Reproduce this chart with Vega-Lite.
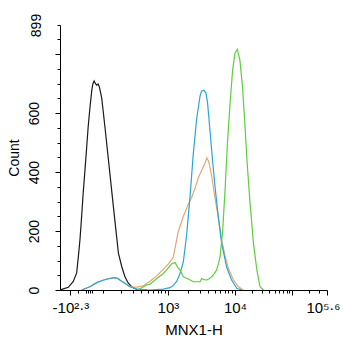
{
  "$schema": "https://vega.github.io/schema/vega-lite/v6.json",
  "autosize": {"type": "none"},
  "width": 267,
  "height": 265,
  "padding": {"left": 60, "top": 25, "right": 16, "bottom": 60},
  "background": "white",
  "config": {
    "view": {"stroke": null},
    "axis": {
      "grid": false,
      "domainColor": "#000000",
      "domainWidth": 1,
      "tickColor": "#000000",
      "tickWidth": 1,
      "labelColor": "#000000",
      "titleColor": "#000000",
      "labelFont": "Liberation Sans",
      "titleFont": "Liberation Sans",
      "titleFontWeight": "normal",
      "labelFontSize": 14,
      "titleFontSize": 14
    }
  },
  "data": {
    "values": [
      {"s": "black", "ch": 0, "count": 0},
      {"s": "black", "ch": 7, "count": 2},
      {"s": "black", "ch": 32, "count": 9},
      {"s": "black", "ch": 51, "count": 29},
      {"s": "black", "ch": 64, "count": 58},
      {"s": "black", "ch": 70, "count": 110},
      {"s": "black", "ch": 77, "count": 175},
      {"s": "black", "ch": 83, "count": 250},
      {"s": "black", "ch": 89, "count": 330},
      {"s": "black", "ch": 96, "count": 410},
      {"s": "black", "ch": 102, "count": 480},
      {"s": "black", "ch": 108, "count": 553},
      {"s": "black", "ch": 115, "count": 620},
      {"s": "black", "ch": 122, "count": 678},
      {"s": "black", "ch": 126, "count": 699},
      {"s": "black", "ch": 131, "count": 709},
      {"s": "black", "ch": 136, "count": 700},
      {"s": "black", "ch": 141, "count": 695},
      {"s": "black", "ch": 146, "count": 699},
      {"s": "black", "ch": 151, "count": 689},
      {"s": "black", "ch": 160, "count": 651},
      {"s": "black", "ch": 166, "count": 604},
      {"s": "black", "ch": 173, "count": 548},
      {"s": "black", "ch": 185, "count": 448},
      {"s": "black", "ch": 198, "count": 339},
      {"s": "black", "ch": 211, "count": 231},
      {"s": "black", "ch": 224, "count": 125},
      {"s": "black", "ch": 237, "count": 79},
      {"s": "black", "ch": 249, "count": 45},
      {"s": "black", "ch": 262, "count": 23},
      {"s": "black", "ch": 275, "count": 11},
      {"s": "black", "ch": 294, "count": 2},
      {"s": "black", "ch": 307, "count": 0},

      {"s": "orange", "ch": 83, "count": 0},
      {"s": "orange", "ch": 100, "count": 6},
      {"s": "orange", "ch": 115, "count": 12},
      {"s": "orange", "ch": 141, "count": 25},
      {"s": "orange", "ch": 166, "count": 34},
      {"s": "orange", "ch": 192, "count": 40},
      {"s": "orange", "ch": 211, "count": 41},
      {"s": "orange", "ch": 222, "count": 38},
      {"s": "orange", "ch": 230, "count": 33},
      {"s": "orange", "ch": 249, "count": 22},
      {"s": "orange", "ch": 268, "count": 12},
      {"s": "orange", "ch": 282, "count": 10},
      {"s": "orange", "ch": 294, "count": 10},
      {"s": "orange", "ch": 319, "count": 14},
      {"s": "orange", "ch": 345, "count": 30},
      {"s": "orange", "ch": 371, "count": 48},
      {"s": "orange", "ch": 396, "count": 70},
      {"s": "orange", "ch": 415, "count": 88},
      {"s": "orange", "ch": 434, "count": 110},
      {"s": "orange", "ch": 454, "count": 200},
      {"s": "orange", "ch": 473, "count": 250},
      {"s": "orange", "ch": 492, "count": 290},
      {"s": "orange", "ch": 505, "count": 315},
      {"s": "orange", "ch": 518, "count": 345},
      {"s": "orange", "ch": 530, "count": 380},
      {"s": "orange", "ch": 543, "count": 405},
      {"s": "orange", "ch": 556, "count": 430},
      {"s": "orange", "ch": 563, "count": 448},
      {"s": "orange", "ch": 568, "count": 440},
      {"s": "orange", "ch": 572, "count": 430},
      {"s": "orange", "ch": 582, "count": 385},
      {"s": "orange", "ch": 594, "count": 315},
      {"s": "orange", "ch": 607, "count": 248},
      {"s": "orange", "ch": 620, "count": 170},
      {"s": "orange", "ch": 633, "count": 115},
      {"s": "orange", "ch": 646, "count": 73},
      {"s": "orange", "ch": 665, "count": 34},
      {"s": "orange", "ch": 684, "count": 11},
      {"s": "orange", "ch": 703, "count": 0},

      {"s": "blue", "ch": 83, "count": 0},
      {"s": "blue", "ch": 100, "count": 6},
      {"s": "blue", "ch": 115, "count": 11},
      {"s": "blue", "ch": 141, "count": 25},
      {"s": "blue", "ch": 166, "count": 33},
      {"s": "blue", "ch": 192, "count": 39},
      {"s": "blue", "ch": 211, "count": 42},
      {"s": "blue", "ch": 222, "count": 40},
      {"s": "blue", "ch": 230, "count": 34},
      {"s": "blue", "ch": 249, "count": 23},
      {"s": "blue", "ch": 268, "count": 11},
      {"s": "blue", "ch": 294, "count": 3},
      {"s": "blue", "ch": 326, "count": 1},
      {"s": "blue", "ch": 345, "count": 0},
      {"s": "blue", "ch": 396, "count": 3},
      {"s": "blue", "ch": 422, "count": 8},
      {"s": "blue", "ch": 434, "count": 15},
      {"s": "blue", "ch": 448, "count": 30},
      {"s": "blue", "ch": 460, "count": 55},
      {"s": "blue", "ch": 473, "count": 95},
      {"s": "blue", "ch": 486, "count": 190},
      {"s": "blue", "ch": 499, "count": 320},
      {"s": "blue", "ch": 511, "count": 460},
      {"s": "blue", "ch": 524, "count": 580},
      {"s": "blue", "ch": 537, "count": 658},
      {"s": "blue", "ch": 543, "count": 675},
      {"s": "blue", "ch": 552, "count": 678},
      {"s": "blue", "ch": 560, "count": 668},
      {"s": "blue", "ch": 566, "count": 634},
      {"s": "blue", "ch": 575, "count": 543},
      {"s": "blue", "ch": 586, "count": 430},
      {"s": "blue", "ch": 596, "count": 339},
      {"s": "blue", "ch": 607, "count": 248},
      {"s": "blue", "ch": 620, "count": 158},
      {"s": "blue", "ch": 639, "count": 78},
      {"s": "blue", "ch": 658, "count": 34},
      {"s": "blue", "ch": 678, "count": 6},
      {"s": "blue", "ch": 697, "count": 0},

      {"s": "green", "ch": 294, "count": 0},
      {"s": "green", "ch": 310, "count": 6},
      {"s": "green", "ch": 332, "count": 17},
      {"s": "green", "ch": 345, "count": 20},
      {"s": "green", "ch": 371, "count": 39},
      {"s": "green", "ch": 396, "count": 56},
      {"s": "green", "ch": 409, "count": 68},
      {"s": "green", "ch": 422, "count": 83},
      {"s": "green", "ch": 430, "count": 90},
      {"s": "green", "ch": 441, "count": 93},
      {"s": "green", "ch": 454, "count": 73},
      {"s": "green", "ch": 460, "count": 68},
      {"s": "green", "ch": 473, "count": 45},
      {"s": "green", "ch": 486, "count": 40},
      {"s": "green", "ch": 499, "count": 34},
      {"s": "green", "ch": 511, "count": 28},
      {"s": "green", "ch": 524, "count": 28},
      {"s": "green", "ch": 537, "count": 28},
      {"s": "green", "ch": 543, "count": 39},
      {"s": "green", "ch": 552, "count": 35},
      {"s": "green", "ch": 563, "count": 34},
      {"s": "green", "ch": 572, "count": 38},
      {"s": "green", "ch": 582, "count": 45},
      {"s": "green", "ch": 591, "count": 55},
      {"s": "green", "ch": 601, "count": 68},
      {"s": "green", "ch": 608, "count": 90},
      {"s": "green", "ch": 614, "count": 113},
      {"s": "green", "ch": 624, "count": 203},
      {"s": "green", "ch": 633, "count": 339},
      {"s": "green", "ch": 642, "count": 495},
      {"s": "green", "ch": 652, "count": 631},
      {"s": "green", "ch": 662, "count": 746},
      {"s": "green", "ch": 671, "count": 803},
      {"s": "green", "ch": 680, "count": 816},
      {"s": "green", "ch": 690, "count": 780},
      {"s": "green", "ch": 700, "count": 688},
      {"s": "green", "ch": 709, "count": 563},
      {"s": "green", "ch": 718, "count": 427},
      {"s": "green", "ch": 729, "count": 294},
      {"s": "green", "ch": 742, "count": 158},
      {"s": "green", "ch": 755, "count": 68},
      {"s": "green", "ch": 767, "count": 11},
      {"s": "green", "ch": 780, "count": 0}
    ]
  },
  "mark": {"type": "line", "strokeWidth": 1.2, "clip": true},
  "encoding": {
    "x": {
      "field": "ch",
      "type": "quantitative",
      "scale": {"domain": [0, 1024], "nice": false, "zero": false},
      "axis": {
        "title": "MNX1-H",
        "titlePadding": 7,
        "titleFontSize": 15,
        "labelFontSize": 15,
        "values": [40, 69, 100, 108, 115, 123, 165, 234, 280, 312, 337, 357, 374, 389, 402, 414, 491, 537, 569, 594, 614, 631, 646, 659, 671, 737, 776, 803, 824, 841, 856, 869, 880, 890, 956, 995, 1024],
        "labelExpr": "datum.value == 40 ? '-10²·³' : datum.value == 414 ? '10³' : datum.value == 671 ? '10⁴' : datum.value == 1024 ? '10⁵·⁶' : ''",
        "labelFlush": false,
        "labelOverlap": false,
        "labelPadding": 5,
        "labelOffset": {"condition": {"test": "datum.value == 1024", "value": -4}, "value": 0},
        "tickSize": {"condition": {"test": "datum.value == 40 || datum.value == 414 || datum.value == 671 || datum.value == 890 || datum.value == 1024", "value": 5}, "value": 3}
      }
    },
    "y": {
      "field": "count",
      "type": "quantitative",
      "scale": {"domain": [0, 899], "nice": false},
      "axis": {
        "title": "Count",
        "titlePadding": 6,
        "values": [0, 50, 100, 150, 200, 250, 300, 350, 400, 450, 500, 550, 600, 650, 700, 750, 800, 850, 899],
        "labelExpr": "datum.value == 0 || datum.value == 200 || datum.value == 400 || datum.value == 600 || datum.value == 899 ? datum.label : ''",
        "labelAngle": 270,
        "labelAlign": "center",
        "labelBaseline": "bottom",
        "labelOverlap": false,
        "labelPadding": 14,
        "tickSize": {"condition": {"test": "datum.value % 200 == 0", "value": 5}, "value": 3}
      }
    },
    "color": {
      "field": "s",
      "type": "nominal",
      "scale": {"domain": ["black", "orange", "blue", "green"], "range": ["#1a1a1a", "#e8a474", "#2aa6d8", "#5ccf3c"]},
      "legend": null
    }
  }
}
